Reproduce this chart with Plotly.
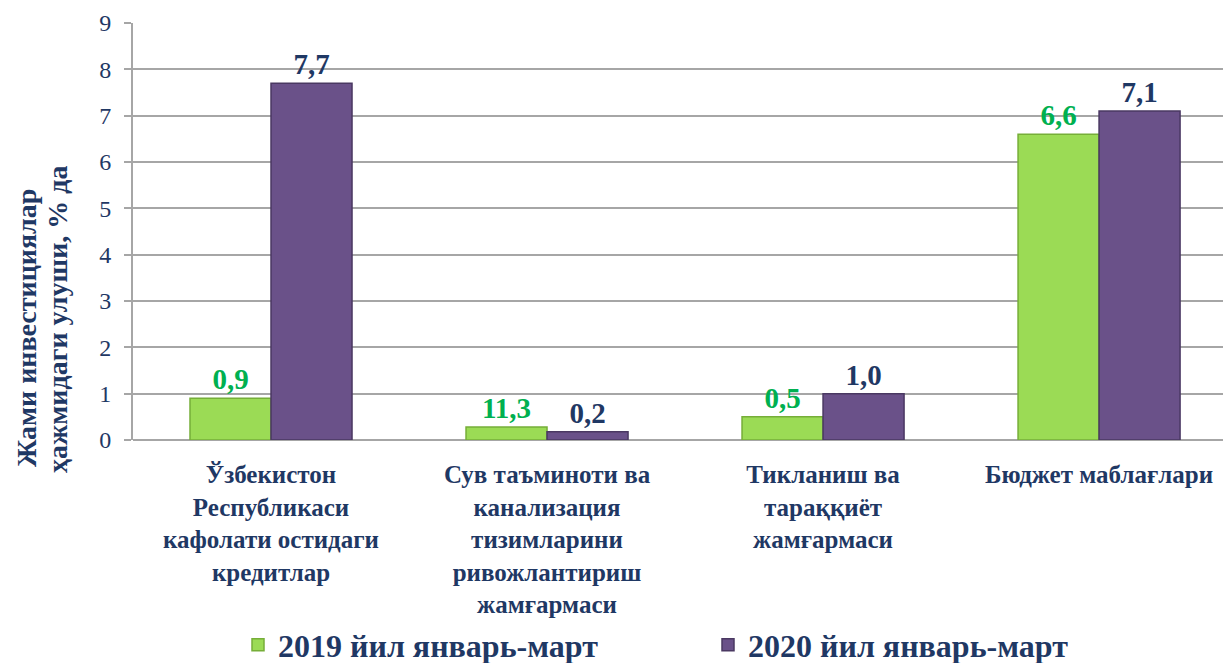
import plotly.graph_objects as go

categories = [
    "Ўзбекистон<br>Республикаси<br>кафолати остидаги<br>кредитлар",
    "Сув таъминоти ва<br>канализация<br>тизимларини<br>ривожлантириш<br>жамғармаси",
    "Тикланиш ва<br>тараққиёт<br>жамғармаси",
    "Бюджет маблағлари",
]
series_names = ["2019 йил январь-март", "2020 йил январь-март"]
values_2019 = [0.9, 0.28, 0.5, 6.6]
values_2020 = [7.7, 0.18, 1.0, 7.1]
labels_2019 = ["0,9", "11,3", "0,5", "6,6"]
labels_2020 = ["7,7", "0,2", "1,0", "7,1"]
y_ticks = [0, 1, 2, 3, 4, 5, 6, 7, 8, 9]
y_title_lines = ["Жами инвестициялар", "ҳажмидаги улуши, % да"]

NAVY = "#1F3864"
FONT = "Liberation Serif, Times New Roman, serif"

# page body has an 8px margin: figure coords = image coords - 8
OFF = 8
W, H = 1231 - OFF, 663 - OFF
PL, PR, PT, PB = 133, 1231, 23, 440  # plot area in image pixels


def px_x(X):
    return (X - PL) / (PR - PL)


def px_y(Y):
    return (PB - Y) / (PB - PT)


fig = go.Figure()
fig.add_trace(go.Bar(
    x=categories, y=values_2019, name=series_names[0],
    text=labels_2019, textposition="outside", cliponaxis=False,
    textfont=dict(family=FONT, size=29, color="#00B050", weight="bold"),
    marker=dict(color="#9BDB55", line=dict(color="#76AE38", width=1.5)),
))
fig.add_trace(go.Bar(
    x=categories, y=values_2020, name=series_names[1],
    text=labels_2020, textposition="outside", cliponaxis=False,
    textfont=dict(family=FONT, size=29, color=NAVY, weight="bold"),
    marker=dict(color="#6A5189", line=dict(color="#4A3862", width=1.5)),
))

fig.update_layout(
    width=W, height=H,
    margin=dict(l=PL - OFF, r=0, t=PT - OFF, b=H - (PB - OFF), autoexpand=False),
    plot_bgcolor="white", paper_bgcolor="white",
    barmode="group", bargap=0.413, bargroupgap=0.0,
    font=dict(family=FONT, color=NAVY),
    showlegend=True,
    legend=dict(
        orientation="h", x=px_x(238), xanchor="left", y=px_y(645), yanchor="middle",
        font=dict(family=FONT, size=32, color=NAVY, weight="bold"),
        bgcolor="rgba(0,0,0,0)",
        entrywidth=425, itemwidth=30, traceorder="normal",
    ),
    xaxis=dict(
        range=[-0.5, 3.478], showgrid=False, showline=False,
        tickfont=dict(family=FONT, size=25, color=NAVY, weight="bold"),
        ticks="", ticklabelstandoff=17,
    ),
    yaxis=dict(
        range=[0, 9], tickvals=y_ticks, showgrid=True, gridcolor="#A6A6A6", gridwidth=2,
        showline=True, linecolor="#A6A6A6", linewidth=2,
        ticks="outside", ticklen=7, tickcolor="#A6A6A6", tickwidth=2,
        ticklabelstandoff=8,
        tickfont=dict(family=FONT, size=24, color=NAVY),
        zeroline=True, zerolinecolor="#A6A6A6", zerolinewidth=2,
    ),
    annotations=[
        dict(text=y_title_lines[0], xref="paper", yref="paper", x=px_x(26), y=px_y(328),
             xanchor="center", yanchor="middle", textangle=-90, showarrow=False,
             font=dict(family=FONT, size=28, color=NAVY, weight="bold")),
        dict(text=y_title_lines[1], xref="paper", yref="paper", x=px_x(57), y=px_y(320),
             xanchor="center", yanchor="middle", textangle=-90, showarrow=False,
             font=dict(family=FONT, size=28, color=NAVY, weight="bold")),
    ],
)

fig.write_html("out.html")
